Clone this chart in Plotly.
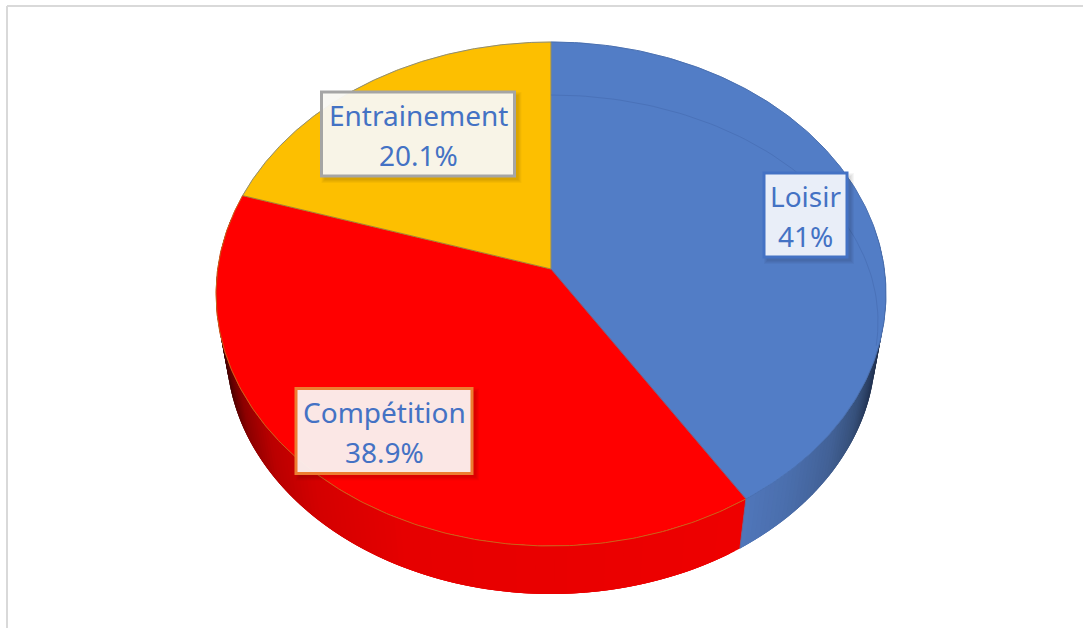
import numpy as np
import plotly.graph_objects as go

categories = ["Loisir", "Compétition", "Entrainement"]
values = [41, 38.9, 20.1]
slice_colors = ["#527dc6", "#ff0000", "#fdbf00"]
arc_colors = ["#4a70b0", "#c8641a", "#8c8c78"]
box_edges = ["#4472c4", "#ed7d31", "#a5a5a5"]
box_fills = ["rgba(242,245,252,0.95)", "rgba(253,243,241,0.95)", "rgba(250,249,243,0.95)"]
box_centers = [(805.5, 215), (384, 431), (418, 134)]
box_sizes = [(83, 84), (176, 85), (193, 84)]

W, H = 1083, 628
CX, APEX_Y, A, B, K = 551, 269, 333.3, 249.5, 0.0992
BASE_Y, BASE_A, BASE_B = 325.6, 323.0, 241.8


def top(theta):
    X, Y = np.sin(theta), np.cos(theta)
    w = 1 + K * Y
    return CX + A * X / w, APEX_Y - B * Y / w


def base(theta):
    X, Y = np.sin(theta), np.cos(theta)
    w = 1 + K * Y
    return CX + BASE_A * X / w, BASE_Y - BASE_B * Y / w


def ramp(x, stops):
    xs = [s[0] for s in stops]
    chans = [np.interp(x, xs, [s[1][i] for s in stops]) for i in range(3)]
    return "rgb(%d,%d,%d)" % tuple(int(round(c)) for c in chans)


red_ramp = [(224, (25, 0, 0)), (238, (85, 0, 0)), (255, (140, 0, 0)), (285, (185, 0, 0)),
            (330, (212, 0, 0)), (420, (230, 0, 0)), (600, (234, 0, 0)), (745, (238, 0, 0))]
blue_ramp = [(740, (80, 118, 186)), (785, (74, 110, 172)), (825, (66, 97, 150)),
             (850, (54, 80, 122)), (868, (35, 52, 84)), (882, (20, 30, 50))]

fracs = np.cumsum([0] + values) / sum(values)
angles = 2 * np.pi * fracs

fig = go.Figure()


def poly(x, y, color, line=None, lw=1, fill=True):
    fig.add_trace(go.Scatter(
        x=list(x), y=list(y), mode="lines", hoverinfo="skip", showlegend=False,
        fill="toself" if fill else None, fillcolor=color if fill else None,
        line=dict(color=line or color, width=lw)))


# side wall: each strip overlaps the next one so no seams show
for a0, a1, stops, backward in [(np.radians(80), angles[1], blue_ramp, False),
                                (angles[1], np.radians(282), red_ramp, True)]:
    edges = np.linspace(a0, a1, int(np.degrees(a1 - a0)) + 2)
    pairs = list(zip(edges[:-1], edges[1:]))
    if backward:
        pairs = pairs[::-1]
    for t0, t1 in pairs:
        mid = (base(t0)[0] + base(t1)[0]) / 2
        t1 = min(t1 + 2 * (edges[1] - edges[0]), a1)
        sub = np.linspace(t0, t1, 4)
        tx, ty = top(sub)
        bx, by = base(sub)
        poly(np.r_[tx, bx[::-1], tx[0]], np.r_[ty, by[::-1], ty[0]], ramp(mid, stops), lw=0)

# top face slices
for i in range(3):
    th = np.linspace(angles[i], angles[i + 1], 200)
    ax, ay = top(th)
    poly(np.r_[CX, ax, CX], np.r_[APEX_Y, ay, APEX_Y], slice_colors[i], lw=0.5)

# faint inner bevel arc on the blue slice
rim = np.radians(np.linspace(0, 96, 80))
poly(CX + 327 * np.sin(rim), 322 - 227 * np.cos(rim), "#4a72b9", lw=1, fill=False)

# outer arcs and separators
for i in range(3):
    th = np.linspace(angles[i], angles[i + 1], 200)
    ax, ay = top(th)
    poly(ax, ay, arc_colors[i], lw=1, fill=False)
for i, c in enumerate(["#5f7a9a", "#5a6f98", "#8a7a40"]):
    ex, ey = top(angles[i])
    poly([CX, ex], [APEX_Y, ey], c, lw=0.8, fill=False)
bx, by = base(angles[1]); tx, ty = top(angles[1])
poly([tx, bx], [ty, by], "#5a6ea0", lw=0.8, fill=False)

shapes = [
    dict(type="line", x0=7, x1=W, y0=6, y1=6, line=dict(color="#d9d9d9", width=2)),
    dict(type="line", x0=7, x1=7, y0=6, y1=H, line=dict(color="#d9d9d9", width=2)),
]
annotations = []
for i, name in enumerate(categories):
    cx, cy = box_centers[i]
    w, h = box_sizes[i]
    for g in range(4, 0, -1):
        shapes.append(dict(type="rect", layer="above",
                           x0=cx - w / 2 + 4 - g, x1=cx + w / 2 + 3 + g,
                           y0=cy - h / 2 + 4 - g, y1=cy + h / 2 + 3 + g,
                           fillcolor="#000000", opacity=0.035, line=dict(width=0)))
    shapes.append(dict(type="rect", layer="above",
                       x0=cx - w / 2, x1=cx + w / 2,
                       y0=cy - h / 2, y1=cy + h / 2,
                       fillcolor=box_fills[i], line=dict(color=box_edges[i], width=3)))
    for text, dy in [(name, -19), (f"{values[i]}%", 20.5)]:
        annotations.append(dict(
            x=cx, y=cy + dy, xref="x", yref="y", showarrow=False, text=text,
            xanchor="center", yanchor="middle",
            font=dict(family="Noto Sans", size=28, color="#4472c4")))

fig.update_layout(
    width=W, height=H, margin=dict(l=0, r=0, t=0, b=0),
    paper_bgcolor="white", plot_bgcolor="white", showlegend=False,
    xaxis=dict(range=[0, W], visible=False, fixedrange=True),
    yaxis=dict(range=[H, 0], visible=False, fixedrange=True),
    shapes=shapes, annotations=annotations)

fig.write_html("out.html", config=dict(displayModeBar=False),
               post_script="document.body.style.margin='0';document.body.style.overflow='hidden';")
